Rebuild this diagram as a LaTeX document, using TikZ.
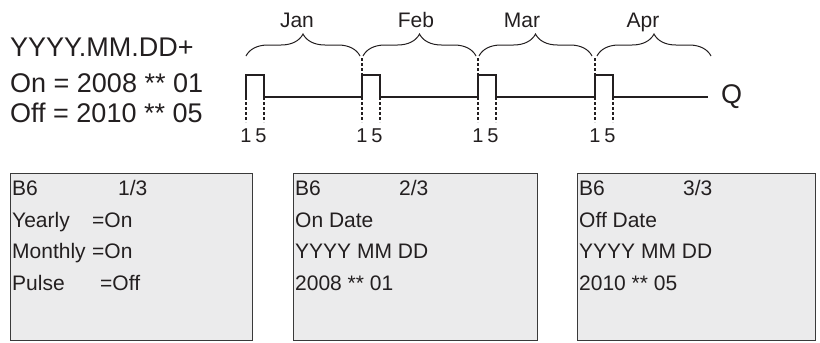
\documentclass[tikz,border=0pt]{standalone}
\usepackage{fontspec}
\setmainfont{Liberation Sans}
\usepackage{xcolor}
\usepackage{tikz}
\usetikzlibrary{positioning,calc,decorations.pathreplacing}
\definecolor{ink}{HTML}{231F20}
\definecolor{frame}{HTML}{3A3A3A}
\definecolor{lcdgray}{HTML}{EBEBEC}
\tikzset{
  headtext/.style={
    font=\fontsize{27}{31}\selectfont, text=ink,
    inner sep=0pt, anchor=base west
  },
  monthlabel/.style={
    font=\fontsize{21}{25}\selectfont, text=ink,
    inner sep=0pt, anchor=base
  },
  ticklabel/.style={
    font=\fontsize{20}{24}\selectfont, text=ink,
    inner sep=0pt, anchor=north
  },
  monthbrace/.style={
    draw=ink, line width=1pt,
    decorate, decoration={brace, amplitude=22pt}
  },
  pulseline/.style={draw=ink, line width=2.2pt, line join=miter},
  marker/.style={draw=ink, line width=1.3pt, dash pattern=on 3pt off 2pt},
  lcdbox/.style={
    rectangle, draw=frame, fill=lcdgray, line width=1.2pt,
    minimum width=#1, minimum height=167pt,
    anchor=north west, inner sep=0pt
  },
  lcdbox/.default=242pt,
  lcdtext/.style={
    font=\fontsize{21}{25}\selectfont, text=ink,
    inner sep=0pt, anchor=base west
  },
}

\begin{document}
\begin{tikzpicture}[x=1pt, y=-1pt]
    \useasboundingbox (0,0) rectangle (820,343);
    % parameters on the left
    \node[headtext] (fmt) at (10,56) {YYYY.MM.DD+};
    \node[headtext] (ondate) at (10,92) {On = 2008 ** 01};
    \node[headtext] (offdate) at (10,122) {Off = 2010 ** 05};
    % months
    \draw[monthbrace] (246,56) -- (360,56);
    \draw[monthbrace] (363,56) -- (476,56);
    \draw[monthbrace] (479,56) -- (592,56);
    \draw[monthbrace] (597,56) -- (711,56);
    \node[monthlabel] (jan) at (297,27) {Jan};
    \node[monthlabel] (feb) at (416,27) {Feb};
    \node[monthlabel] (mar) at (522,27) {Mar};
    \node[monthlabel] (apr) at (643,27) {Apr};
    % output signal
    \draw[pulseline] (246,97) -- (246,75) -- (264,75) -- (264,97)
        -- (362,97) -- (362,75) -- (380,75) -- (380,97)
        -- (478,97) -- (478,75) -- (496,75) -- (496,97)
        -- (595,97) -- (595,75) -- (613,75) -- (613,97)
        -- (708,97) coordinate (qend);
    \node[font=\fontsize{27}{30}\selectfont, text=ink, inner sep=0pt,
          right=13pt of qend] (q) {Q};
    \foreach \m in {362,478,595}
        \draw[marker] (\m,58) -- (\m,97);
    \foreach \m in {246,362,478,595} {
        \draw[marker] (\m,97) -- (\m,122);
        \draw[marker] (\m+18,97) -- (\m+18,122);
        \node[ticklabel] (one\m) at (\m,129) {1};
        \node[ticklabel] (five\m) at (\m+15,129) {5};
    }
    % display screens
    \node[lcdbox] (scr1) at (10,173) {};
    \node[lcdtext] (s1a) at ($(scr1.north west)+(2,22)$) {B6};
    \node[lcdtext] (s1b) at ($(scr1.north west)+(108,22)$) {1/3};
    \node[lcdtext] (s1c) at ($(scr1.north west)+(2,54)$) {Yearly};
    \node[lcdtext] (s1d) at ($(scr1.north west)+(82,54)$) {=On};
    \node[lcdtext] (s1e) at ($(scr1.north west)+(2,85)$) {Monthly};
    \node[lcdtext] (s1f) at ($(scr1.north west)+(82,85)$) {=On};
    \node[lcdtext] (s1g) at ($(scr1.north west)+(2,117)$) {Pulse};
    \node[lcdtext] (s1h) at ($(scr1.north west)+(90,117)$) {=Off};

    \node[lcdbox=244pt] (scr2) at (293,173) {};
    \node[lcdtext] (s2a) at ($(scr2.north west)+(2,22)$) {B6};
    \node[lcdtext] (s2b) at ($(scr2.north west)+(106,22)$) {2/3};
    \node[lcdtext] (s2c) at ($(scr2.north west)+(2,54)$) {On Date};
    \node[lcdtext] (s2d) at ($(scr2.north west)+(2,85)$) {YYYY MM DD};
    \node[lcdtext] (s2e) at ($(scr2.north west)+(2,117)$) {2008 ** 01};

    \node[lcdbox=238pt] (scr3) at (577,173) {};
    \node[lcdtext] (s3a) at ($(scr3.north west)+(2,22)$) {B6};
    \node[lcdtext] (s3b) at ($(scr3.north west)+(106,22)$) {3/3};
    \node[lcdtext] (s3c) at ($(scr3.north west)+(2,54)$) {Off Date};
    \node[lcdtext] (s3d) at ($(scr3.north west)+(2,85)$) {YYYY MM DD};
    \node[lcdtext] (s3e) at ($(scr3.north west)+(2,117)$) {2010 ** 05};
\end{tikzpicture}
\end{document}
